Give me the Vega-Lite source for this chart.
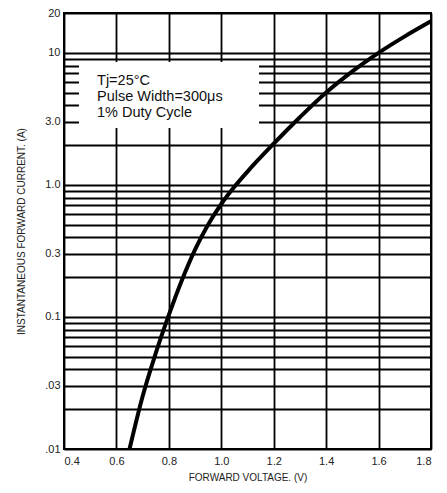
{
  "$schema": "https://vega.github.io/schema/vega-lite/v6.json",
  "width": 367,
  "height": 436,
  "autosize": "none",
  "padding": {"left": 64, "top": 13, "right": 16, "bottom": 44},
  "background": "white",
  "config": {
    "view": {"stroke": "black", "strokeWidth": 2},
    "font": "Liberation Sans",
    "axis": {
      "gridColor": "black",
      "gridWidth": 1.8,
      "gridOpacity": 1,
      "domain": false,
      "ticks": false,
      "labelFont": "Liberation Sans",
      "labelFontSize": 11,
      "labelColor": "#222",
      "titleFont": "Liberation Sans",
      "titleFontSize": 10,
      "titleFontWeight": "normal",
      "titleColor": "#222"
    }
  },
  "layer": [
    {
      "data": {"values": [{"v1": 0.457, "v2": 1.144, "i1": 2.69, "i2": 8.5}]},
      "mark": {"type": "rect", "fill": "white"},
      "encoding": {
        "x": {"field": "v1", "type": "quantitative"},
        "x2": {"field": "v2"},
        "y": {"field": "i1", "type": "quantitative"},
        "y2": {"field": "i2"}
      }
    },
    {
      "data": {
        "values": [
          {"v": 0.526, "i": 5.75, "label": "Tj=25°C\nPulse Width=300μs\n1% Duty Cycle"}
        ]
      },
      "mark": {"type": "text", "align": "left", "baseline": "alphabetic", "lineBreak": "\n", "lineHeight": 16, "fontSize": 14.5, "font": "Liberation Sans", "color": "#111"},
      "encoding": {
        "x": {"field": "v", "type": "quantitative"},
        "y": {"field": "i", "type": "quantitative"},
        "text": {"field": "label"}
      }
    },
    {
      "data": {
        "values": [
          {"v": 0.65, "i": 0.01},
          {"v": 0.7, "i": 0.0251},
          {"v": 0.75, "i": 0.0531},
          {"v": 0.8, "i": 0.1035},
          {"v": 0.85, "i": 0.1905},
          {"v": 0.9, "i": 0.3236},
          {"v": 0.95, "i": 0.501},
          {"v": 1.0, "i": 0.716},
          {"v": 1.05, "i": 0.966},
          {"v": 1.1, "i": 1.26},
          {"v": 1.2, "i": 2.05},
          {"v": 1.3, "i": 3.25},
          {"v": 1.4, "i": 5.0},
          {"v": 1.5, "i": 7.23},
          {"v": 1.6, "i": 9.98},
          {"v": 1.7, "i": 13.3},
          {"v": 1.8, "i": 17.3}
        ]
      },
      "mark": {"type": "line", "color": "black", "strokeWidth": 4, "interpolate": "monotone", "clip": true},
      "encoding": {
        "x": {
          "field": "v",
          "type": "quantitative",
          "scale": {"domain": [0.4, 1.8], "nice": false, "zero": false},
          "axis": {
            "title": "FORWARD VOLTAGE. (V)",
            "values": [0.4, 0.6, 0.8, 1.0, 1.2, 1.4, 1.6, 1.8],
            "format": ".1f",
            "grid": true,
            "labelPadding": 6,
            "titlePadding": 6
          }
        },
        "y": {
          "field": "i",
          "type": "quantitative",
          "scale": {"type": "log", "domain": [0.01, 20], "nice": false},
          "axis": {
            "title": "INSTANTANEOUS FORWARD CURRENT. (A)",
            "values": [0.01, 0.02, 0.03, 0.04, 0.05, 0.06, 0.07, 0.08, 0.09, 0.1, 0.2, 0.3, 0.4, 0.5, 0.6, 0.7, 0.8, 0.9, 1, 2, 3, 4, 5, 6, 7, 8, 9, 10, 20],
            "labelExpr": "datum.value == 20 ? '20' : datum.value == 10 ? '10' : datum.value == 3 ? '3.0' : datum.value == 1 ? '1.0' : datum.value == 0.3 ? '0.3' : datum.value == 0.1 ? '0.1' : datum.value == 0.03 ? '.03' : datum.value == 0.01 ? '.01' : ''",
            "grid": true,
            "labelPadding": 4,
            "titlePadding": 18
          }
        }
      }
    }
  ]
}
